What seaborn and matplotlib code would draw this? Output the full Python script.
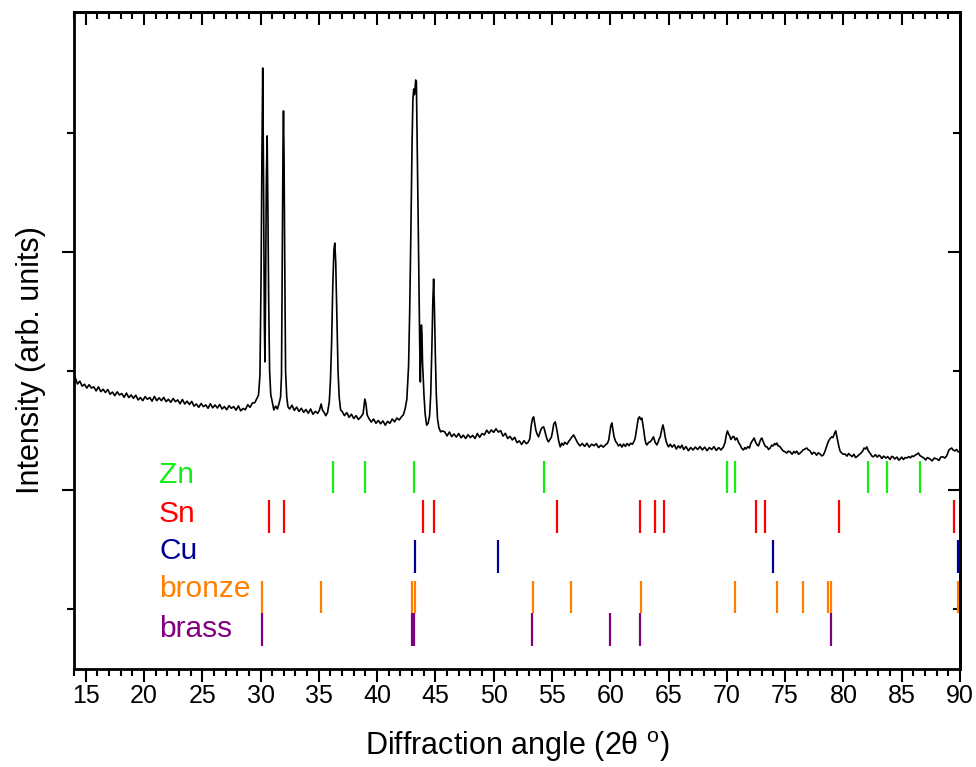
import numpy as np
import seaborn as sns
import matplotlib.pyplot as plt
from matplotlib.ticker import MultipleLocator, FixedLocator

# XRD pattern (2theta in degrees, intensity in arb. units)
two_theta = [
    14.1, 14.3, 14.5, 14.7, 14.9, 15.1, 15.3, 15.5, 15.7, 15.9, 16.1, 16.3, 16.5, 16.7, 16.9,
    17.1, 17.3, 17.5, 17.7, 17.9, 18.1, 18.3, 18.5, 18.7, 18.9, 19.1, 19.3, 19.5, 19.7, 19.9,
    20.1, 20.3, 20.5, 20.7, 20.9, 21.1, 21.3, 21.5, 21.7, 21.9, 22.1, 22.3, 22.5, 22.7, 22.9,
    23.1, 23.3, 23.5, 23.7, 23.9, 24.1, 24.3, 24.5, 24.7, 24.9, 25.1, 25.3, 25.5, 25.7, 25.9,
    26.1, 26.3, 26.5, 26.7, 26.9, 27.1, 27.3, 27.5, 27.7, 27.9, 28.1, 28.3, 28.5, 28.7, 28.9,
    29.1, 29.3, 29.5, 29.7,
    29.83, 29.95, 30.05, 30.12, 30.19, 30.26, 30.33, 30.38, 30.43, 30.5, 30.57, 30.63, 30.7,
    30.78, 30.88, 31.0, 31.14, 31.3, 31.45, 31.6, 31.72, 31.8, 31.87, 31.93, 31.97, 32.02,
    32.08, 32.15, 32.25, 32.35, 32.5, 32.7, 32.9, 33.1, 33.3, 33.5, 33.7, 33.9, 34.1, 34.3,
    34.5, 34.7, 34.9, 35.05, 35.2, 35.32, 35.45, 35.6, 35.75, 35.9, 36.0, 36.1, 36.2, 36.3,
    36.37, 36.45, 36.55, 36.65, 36.75, 36.87, 37.0, 37.2, 37.4, 37.6, 37.8, 38.0, 38.2, 38.4,
    38.6, 38.8, 38.95, 39.05, 39.15, 39.3, 39.5, 39.7, 39.9, 40.1, 40.3, 40.5, 40.7, 40.9,
    41.1, 41.3, 41.5, 41.7, 41.9, 42.1, 42.25, 42.4, 42.55, 42.7, 42.8, 42.9, 43.0, 43.07,
    43.14, 43.2, 43.24, 43.31, 43.37, 43.45, 43.52, 43.58, 43.65, 43.71, 43.76, 43.8, 43.85,
    43.9, 43.95, 44.02, 44.12, 44.25, 44.38, 44.5, 44.6, 44.7, 44.78, 44.85, 44.92, 45.0,
    45.08, 45.18, 45.3, 45.45, 45.6,
    45.8, 46.0, 46.2, 46.4, 46.6, 46.8, 47.0, 47.2, 47.4, 47.6, 47.8, 48.0, 48.2, 48.4, 48.6,
    48.8, 49.0, 49.2, 49.4, 49.6, 49.8, 50.0, 50.2, 50.4, 50.6, 50.8, 51.0, 51.2, 51.4, 51.6,
    51.8, 52.0, 52.2, 52.4, 52.6, 52.8, 52.95, 53.1, 53.23, 53.33, 53.43, 53.52, 53.62, 53.75,
    53.85, 53.95, 54.04, 54.15, 54.28, 54.38, 54.47, 54.6, 54.71, 54.82, 54.94, 55.05, 55.15,
    55.28, 55.37, 55.45, 55.58, 55.71, 55.85, 55.97, 56.1, 56.29, 56.45, 56.57, 56.7, 56.86,
    56.97, 57.08, 57.2, 57.4, 57.6, 57.8, 58.0, 58.2, 58.4, 58.6, 58.8, 59.0, 59.2, 59.4,
    59.6, 59.75, 59.87, 59.97, 60.05, 60.14, 60.22, 60.32, 60.45, 60.57, 60.7, 60.86, 61.0,
    61.15, 61.3, 61.45, 61.6, 61.75, 61.9, 62.05, 62.14, 62.24, 62.31, 62.4, 62.51, 62.6,
    62.71, 62.8, 62.87, 62.97, 63.06, 63.14, 63.3, 63.43, 63.55, 63.71, 63.85, 64.0, 64.1,
    64.2, 64.29, 64.4, 64.52, 64.62, 64.71, 64.82, 64.92, 65.0, 65.15, 65.31, 65.5, 65.66,
    65.85, 66.0, 66.15, 66.3, 66.5, 66.7, 66.9, 67.1, 67.3, 67.5, 67.7, 67.9, 68.1, 68.3,
    68.5, 68.7, 68.9, 69.1, 69.3, 69.5, 69.7, 69.85, 69.95, 70.05, 70.15, 70.24, 70.35,
    70.43, 70.53, 70.62, 70.72, 70.86, 71.0, 71.14, 71.28, 71.42, 71.55, 71.65, 71.8, 71.94,
    72.05, 72.13, 72.24, 72.34, 72.43, 72.51, 72.62, 72.71, 72.8, 72.86, 72.93, 73.0, 73.1,
    73.2, 73.32, 73.45, 73.58, 73.71, 73.85, 73.97, 74.1, 74.2, 74.29, 74.4, 74.57, 74.7,
    74.83, 75.0, 75.14, 75.28, 75.43, 75.6, 75.75, 75.86, 76.0, 76.15, 76.29, 76.4, 76.54,
    76.7, 76.86, 77.0, 77.14, 77.3, 77.45, 77.57, 77.7, 77.85, 78.0, 78.15, 78.28, 78.4,
    78.51, 78.62, 78.73, 78.85, 79.0, 79.1, 79.16, 79.25, 79.34, 79.42, 79.5, 79.6, 79.71,
    79.85, 80.0, 80.14, 80.3, 80.45, 80.57, 80.75, 80.9, 81.05, 81.14, 81.3, 81.51, 81.65,
    81.77, 81.9, 82.0, 82.1, 82.2, 82.35, 82.45, 82.57, 82.75, 82.9, 83.05, 83.14, 83.3,
    83.45, 83.66, 83.8, 84.0, 84.15, 84.26, 84.4, 84.6, 84.75, 84.86, 85.0, 85.15, 85.3,
    85.43, 85.6, 85.75, 85.89, 86.0, 86.15, 86.3, 86.43, 86.55, 86.7, 86.91, 87.05, 87.2,
    87.43, 87.6, 87.8, 88.03, 88.2, 88.35, 88.54, 88.7, 88.86, 88.95, 89.05, 89.15, 89.29,
    89.4, 89.57, 89.7, 89.85, 90.0,
]
intensity = [
    1473, 1445, 1457, 1436, 1444, 1428, 1442, 1428, 1433, 1416, 1433, 1413, 1423, 1409, 1422,
    1402, 1411, 1396, 1412, 1399, 1405, 1389, 1407, 1388, 1399, 1385, 1398, 1378, 1388, 1375,
    1392, 1381, 1388, 1373, 1393, 1375, 1387, 1375, 1389, 1371, 1381, 1368, 1384, 1371, 1378,
    1362, 1380, 1361, 1373, 1359, 1372, 1352, 1361, 1347, 1363, 1350, 1357, 1343, 1362, 1345,
    1357, 1344, 1359, 1340, 1350, 1337, 1354, 1343, 1350, 1335, 1353, 1332, 1342, 1337, 1358,
    1347, 1365, 1366, 1385,
    1399, 1480, 1900, 2400, 2772, 2300, 1700, 1538, 1800, 2300, 2487, 2200, 1800,
    1500, 1400, 1372, 1336, 1352, 1340, 1365, 1390, 1480, 2000, 2450, 2592, 2400,
    1950, 1500, 1390, 1350, 1340, 1356, 1334, 1348, 1330, 1343, 1326, 1338, 1322, 1340,
    1318, 1330, 1322, 1334, 1361, 1335, 1326, 1312, 1325, 1370, 1460, 1620, 1860, 2010,
    2037, 1960, 1720, 1500, 1390, 1336, 1330, 1312, 1325, 1305, 1318, 1300, 1312, 1296,
    1306, 1320, 1382, 1360, 1315, 1300, 1285, 1298, 1280, 1292, 1278, 1290, 1272, 1288,
    1280, 1298, 1286, 1302, 1294, 1308, 1315, 1340, 1380, 1520, 1760, 2092, 2457, 2638,
    2684, 2660, 2672, 2722, 2714, 2428, 2150, 1900, 1630, 1454, 1600, 1693, 1650,
    1530, 1480, 1400, 1320, 1272, 1280, 1310, 1400, 1600, 1790, 1886, 1760, 1560,
    1400, 1300, 1262, 1244, 1248,
    1244, 1227, 1243, 1224, 1235, 1222, 1237, 1219, 1230, 1216, 1232, 1220, 1229, 1216, 1237,
    1221, 1237, 1231, 1251, 1238, 1252, 1242, 1257, 1243, 1249, 1226, 1238, 1216, 1225, 1210,
    1221, 1199, 1206, 1191, 1207, 1194, 1200, 1215, 1273, 1300, 1307, 1280, 1250, 1232,
    1223, 1238, 1252, 1262, 1265, 1250, 1231, 1210, 1202, 1212, 1220, 1245, 1277,
    1286, 1265, 1244, 1205, 1181, 1196, 1188, 1200, 1192, 1205, 1212, 1222, 1231,
    1220, 1210, 1198, 1185, 1195, 1183, 1196, 1180, 1192, 1186, 1194, 1178, 1188, 1180,
    1190, 1195, 1210, 1245, 1270, 1281, 1255, 1225, 1205, 1197, 1185, 1192, 1180,
    1193, 1183, 1195, 1186, 1196, 1192, 1205, 1218, 1250, 1273, 1300, 1307, 1296,
    1302, 1275, 1252, 1215, 1195, 1189, 1200, 1202, 1210, 1223, 1200, 1189, 1200,
    1215, 1223, 1250, 1273, 1252, 1223, 1200, 1188, 1181, 1192, 1180, 1190, 1172,
    1185, 1176, 1188, 1170, 1182, 1165, 1178, 1168, 1180, 1170, 1182, 1168, 1180, 1165,
    1178, 1170, 1182, 1166, 1178, 1168, 1180, 1200, 1230, 1248, 1235, 1227, 1212,
    1218, 1225, 1223, 1210, 1218, 1200, 1189, 1175, 1168, 1178, 1172, 1182, 1176,
    1195, 1202, 1210, 1218, 1205, 1197, 1188, 1185, 1198, 1206, 1214, 1218, 1205,
    1193, 1182, 1181, 1170, 1176, 1188, 1185, 1195, 1190, 1197, 1186, 1181, 1172,
    1164, 1160, 1155, 1163, 1160, 1150, 1162, 1155, 1163, 1150, 1155, 1160, 1168,
    1172, 1176, 1168, 1164, 1150, 1158, 1155, 1146, 1156, 1151, 1143, 1147, 1160,
    1176, 1192, 1206, 1215, 1223, 1220, 1227, 1240, 1248, 1228, 1210, 1185, 1164,
    1155, 1150, 1151, 1142, 1153, 1147, 1140, 1150, 1136, 1139, 1146, 1155, 1163,
    1176, 1172, 1181, 1168, 1160, 1150, 1142, 1139, 1148, 1138, 1146, 1143, 1132,
    1142, 1134, 1140, 1128, 1141, 1139, 1130, 1138, 1125, 1130, 1138, 1128, 1136,
    1134, 1140, 1135, 1143, 1140, 1146, 1150, 1155, 1145, 1140, 1134, 1126, 1136,
    1130, 1122, 1134, 1130, 1124, 1138, 1139, 1134, 1143, 1155, 1168, 1172, 1176,
    1168, 1164, 1170, 1160, 1160,
]

# reference reflections (2theta)
zn_peaks = [36.25, 39.0, 43.2, 54.32, 70.04, 70.68, 82.11, 83.71, 86.57]
sn_peaks = [30.7, 32.05, 43.9, 44.86, 55.39, 62.57, 63.85, 64.65, 72.47, 73.26, 79.59, 89.5]
cu_peaks = [43.25, 50.4, 74.0, 89.85]
bronze_peaks = [30.12, 35.18, 43.0, 43.27, 53.39, 56.66, 62.63, 70.74, 74.33, 76.56,
                78.67, 78.93, 89.8]
brass_peaks = [30.1, 43.0, 43.2, 53.3, 59.96, 62.57, 78.93]

phase_names = ["Zn", "Sn", "Cu", "bronze", "brass"]
phase_colors = ["#11ee11", "#ff0000", "#000099", "#ff8000", "#800080"]
row_low = [986, 819, 651, 482, 346]
row_high = [1123, 958, 790, 619, 484]
label_base = [1028, 867, 709, 552, 384]

sns.set_style("ticks", {"axes.edgecolor": "black", "xtick.color": "black",
                        "ytick.color": "black", "text.color": "black",
                        "axes.labelcolor": "black"})
plt.rcParams['font.family'] = ['Liberation Sans', 'DejaVu Sans']
plt.rcParams['mathtext.fontset'] = 'custom'
plt.rcParams['mathtext.rm'] = 'Liberation Sans'

fig = plt.figure(figsize=(9.76, 7.67), dpi=100)
ax = fig.add_axes([0.0758, 0.1278, 0.9078, 0.857])

sns.lineplot(x=two_theta, y=intensity, color='black', lw=1.2, ax=ax,
             estimator=None, sort=False)

all_peaks = [zn_peaks, sn_peaks, cu_peaks, bronze_peaks, brass_peaks]
for i in range(len(phase_names)):
    ax.vlines(all_peaks[i], row_low[i], row_high[i], colors=phase_colors[i], lw=1.6)
    ax.text(21.3, label_base[i], phase_names[i], color=phase_colors[i], fontsize=21.5,
            ha='left', va='baseline')

ax.set_xlim(14, 90)
ax.set_ylim(248, 3009)
ax.xaxis.set_major_locator(MultipleLocator(5))
ax.xaxis.set_minor_locator(MultipleLocator(1))
ax.yaxis.set_major_locator(FixedLocator([1000, 2000]))
ax.yaxis.set_minor_locator(FixedLocator([500, 1500, 2500]))
ax.set_yticklabels([])

ax.tick_params(which='both', direction='out', width=1.5, labelsize=18, pad=2,
               top=False, right=False, colors='black')
ax.tick_params(which='major', length=9)
ax.tick_params(which='minor', length=5)

# mirrored axes with inward ticks on top and right
top = ax.secondary_xaxis('top')
top.xaxis.set_major_locator(MultipleLocator(5))
top.xaxis.set_minor_locator(MultipleLocator(1))
top.tick_params(which='both', direction='in', width=1.5, labeltop=False, colors='black')
top.tick_params(which='major', length=9)
top.tick_params(which='minor', length=5)

right = ax.secondary_yaxis('right')
right.yaxis.set_major_locator(FixedLocator([1000, 2000]))
right.yaxis.set_minor_locator(FixedLocator([500, 1500, 2500]))
right.tick_params(which='both', direction='in', width=1.5, labelright=False, colors='black')
right.tick_params(which='major', length=9)
right.tick_params(which='minor', length=5)

for a in [ax, top, right]:
    for s in a.spines.values():
        s.set_linewidth(2.0)
        s.set_color('black')

ax.set_xlabel(r"Diffraction angle (2θ $^{\mathrm{o}}$)", fontsize=22, labelpad=15)
ax.set_ylabel("Intensity (arb. units)", fontsize=22, labelpad=14)
ax.yaxis.set_label_coords(-0.032, 0.47)

plt.savefig("out.png", dpi=100)
